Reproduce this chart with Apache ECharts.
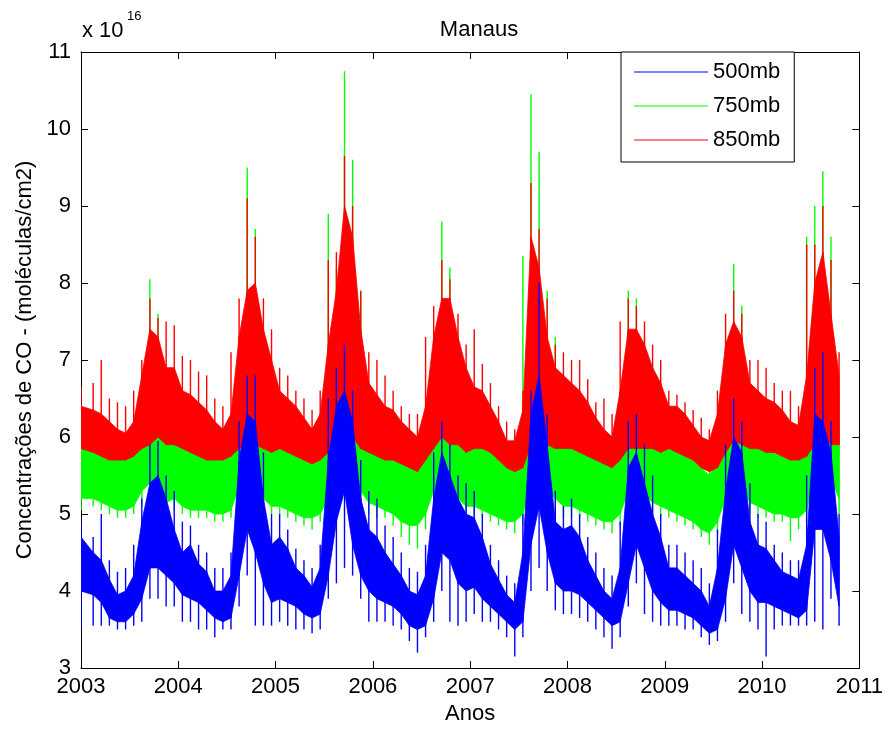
<!DOCTYPE html>
<html>
<head>
<meta charset="utf-8">
<script src="https://cdn.jsdelivr.net/npm/echarts@6/dist/echarts.min.js"></script>
<style>
  html, body { margin: 0; background: #fff; }
  #chart { width: 886px; height: 730px; }
</style>
</head>
<body>
<div id="chart"></div>
<script>
// monthly readings Jan 2003 .. Oct 2010, in units of 1e16 molecules/cm2
// lo/hi = dense part of the daily band, bot/top = extreme spikes of that month
const years = [2003, 2004, 2005, 2006, 2007, 2008, 2009, 2010, 2011];

const red_lo = [
  5.85, 5.8, 5.75, 5.7, 5.7, 5.7, 5.75, 5.85, 5.9, 6.0, 5.9, 5.9,
  5.85, 5.8, 5.75, 5.7, 5.7, 5.7, 5.75, 5.85, 5.9, 5.9, 5.85, 5.8,
  5.85, 5.8, 5.75, 5.7, 5.65, 5.7, 5.8, 5.9, 6.1, 6.0, 5.85, 5.8,
  5.75, 5.7, 5.7, 5.65, 5.6, 5.55, 5.7, 5.85, 6.0, 5.9, 5.9, 5.8,
  5.85, 5.85, 5.8, 5.7, 5.6, 5.55, 5.6, 5.9, 6.0, 5.9, 5.85, 5.85,
  5.85, 5.8, 5.75, 5.7, 5.65, 5.6, 5.7, 5.85, 5.85, 5.85, 5.85, 5.8,
  5.85, 5.8, 5.75, 5.7, 5.6, 5.55, 5.6, 5.8, 5.95, 5.9, 5.85, 5.85,
  5.8, 5.8, 5.75, 5.7, 5.7, 5.75, 5.9, 6.0, 5.9, 5.9
];
const red_hi = [
  6.4, 6.35, 6.3, 6.2, 6.1, 6.05, 6.2, 6.8, 7.4, 7.3, 6.9, 6.9,
  6.6, 6.55, 6.45, 6.35, 6.2, 6.1, 6.3, 7.3, 7.9, 8.0, 7.4, 7.0,
  6.6, 6.5, 6.4, 6.25, 6.1, 6.3, 7.2, 7.9, 9.0, 8.6, 7.4, 6.7,
  6.55, 6.4, 6.35, 6.2, 6.1, 6.0, 6.4, 7.3, 7.8, 7.8, 7.3, 6.9,
  6.65, 6.6, 6.4, 6.2, 5.95, 5.95, 6.35, 8.6, 8.2, 7.3, 6.9, 6.8,
  6.7, 6.6, 6.45, 6.25, 6.1, 6.0, 6.6, 7.4, 7.4, 7.2, 6.9, 6.7,
  6.4, 6.4, 6.3, 6.15, 6.0, 5.95, 6.3, 7.2, 7.5, 7.3, 6.7, 6.6,
  6.5, 6.45, 6.35, 6.2, 6.15, 6.8, 8.0, 8.4, 7.6, 6.8
];
const red_top = [
  6.65, 6.7, 7.0, 6.5, 6.45, 6.4, 6.6, 7.0, 7.8, 7.55, 7.5, 7.45,
  7.05, 7.0, 6.85, 6.8, 6.5, 6.4, 7.1, 7.8, 9.1, 8.6, 7.8, 7.4,
  6.9, 6.8, 6.6, 6.5, 6.35, 6.6, 8.3, 8.4, 9.65, 9.0, 7.9, 7.1,
  7.0, 6.8, 6.6, 6.4, 6.3, 6.3, 7.3, 7.7, 8.3, 8.05, 7.6, 7.2,
  7.4, 6.95, 6.7, 6.4, 6.2, 6.1, 6.6, 9.3, 8.7, 7.8, 7.2, 7.1,
  7.0, 7.0, 6.75, 6.45, 6.5, 6.3, 7.5, 7.8, 7.7, 7.5, 7.2, 7.0,
  6.6, 6.55, 6.45, 6.35, 6.25, 6.1, 6.6, 7.6, 7.9, 7.6, 7.0, 7.0,
  6.9, 6.7, 6.6, 6.6, 6.4, 8.5, 8.5, 9.0, 8.3, 7.1
];

const green_lo = [
  5.2, 5.2, 5.15, 5.1, 5.05, 5.05, 5.1, 5.3, 5.4, 5.35, 5.15, 5.2,
  5.1, 5.05, 5.05, 5.05, 5.0, 5.0, 5.05, 5.35, 5.5, 5.4, 5.2, 5.1,
  5.1, 5.05, 5.0, 4.95, 4.95, 5.0, 5.2, 5.5, 5.8, 5.6, 5.3, 5.15,
  5.1, 5.05, 5.0, 4.9, 4.85, 4.85, 5.0, 5.3, 5.5, 5.4, 5.2, 5.1,
  5.1, 5.05, 5.0, 4.95, 4.9, 4.9, 5.0, 5.4, 5.6, 5.3, 5.2, 5.1,
  5.1, 5.05, 5.0, 4.95, 4.9, 4.9, 5.0, 5.3, 5.4, 5.25, 5.15, 5.1,
  5.05, 5.0, 4.95, 4.9, 4.8, 4.75, 4.9, 5.2, 5.4, 5.35, 5.15, 5.1,
  5.05, 5.0, 5.0, 4.95, 4.95, 5.05, 5.5, 5.6, 5.45, 5.2
];
const green_hi = [
  5.95, 5.9, 5.8, 5.75, 5.7, 5.7, 5.8, 6.0, 6.3, 6.1, 6.0, 5.95,
  5.9, 5.85, 5.8, 5.75, 5.7, 5.7, 5.75, 6.3, 6.5, 6.3, 6.0, 5.9,
  5.9, 5.85, 5.8, 5.75, 5.7, 5.8, 6.3, 6.5, 7.0, 6.8, 6.2, 6.0,
  5.9, 5.85, 5.8, 5.75, 5.65, 5.6, 5.8, 6.2, 6.6, 6.4, 6.0, 5.9,
  5.9, 5.85, 5.8, 5.7, 5.6, 5.6, 5.7, 6.7, 6.8, 6.2, 6.0, 5.9,
  5.9, 5.85, 5.8, 5.7, 5.65, 5.65, 5.85, 6.3, 6.4, 6.2, 6.0, 5.9,
  5.85, 5.8, 5.75, 5.7, 5.6, 5.5, 5.7, 6.2, 6.4, 6.3, 6.0, 5.9,
  5.85, 5.8, 5.75, 5.7, 5.7, 6.0, 6.6, 6.8, 6.5, 6.1
];
const green_bot = [
  5.05, 5.1, 5.05, 5.0, 4.95, 4.95, 5.0, 5.1, 5.2, 5.15, 5.0, 5.05,
  5.0, 4.95, 4.95, 4.95, 4.9, 4.9, 4.95, 5.15, 5.3, 5.2, 5.05, 5.0,
  5.0, 4.95, 4.9, 4.85, 4.8, 4.9, 5.0, 5.3, 5.5, 5.35, 5.1, 5.0,
  4.95, 4.95, 4.85, 4.7, 4.6, 4.55, 4.8, 5.1, 5.3, 5.2, 5.05, 4.95,
  4.95, 4.95, 4.9, 4.85, 4.8, 4.75, 4.85, 5.2, 5.35, 5.1, 5.0, 4.95,
  4.95, 4.95, 4.9, 4.85, 4.8, 4.75, 4.85, 5.1, 5.2, 5.05, 5.0, 4.95,
  4.95, 4.9, 4.85, 4.8, 4.7, 4.6, 4.75, 5.0, 5.2, 5.15, 5.0, 4.95,
  4.95, 4.9, 4.9, 4.65, 4.8, 4.9, 5.3, 5.35, 5.2, 5.0
];
const green_top = [
  6.1, 6.0, 5.9, 5.8, 5.75, 5.75, 5.9, 6.5, 8.05, 7.6, 6.2, 6.1,
  6.0, 5.95, 5.9, 5.85, 5.8, 5.8, 5.9, 6.6, 9.5, 8.7, 6.5, 6.1,
  6.0, 5.95, 5.9, 5.8, 5.8, 6.2, 8.9, 8.2, 10.75, 9.6, 7.9, 6.3,
  6.0, 5.95, 5.9, 5.8, 5.7, 5.7, 6.0, 6.6, 8.8, 8.2, 6.6, 6.1,
  6.0, 5.95, 5.9, 5.8, 5.7, 5.7, 8.35, 10.45, 9.7, 7.9, 7.3, 6.0,
  6.0, 5.95, 5.9, 5.8, 5.75, 5.75, 6.3, 7.9, 7.8, 7.3, 6.1, 6.0,
  5.95, 5.9, 5.85, 5.8, 5.7, 5.6, 5.9, 6.8, 8.25, 7.7, 6.4, 6.0,
  5.95, 5.9, 5.85, 5.8, 5.8, 8.6, 9.0, 9.45, 8.6, 6.6
];

const blue_lo = [
  4.0, 3.95, 3.85, 3.65, 3.6, 3.6, 3.7, 3.9, 4.3, 4.3, 4.2, 4.1,
  3.95, 3.9, 3.85, 3.75, 3.65, 3.6, 3.65, 4.2, 4.8, 4.5, 4.1, 3.85,
  3.9, 3.85, 3.8, 3.7, 3.65, 3.7, 4.2, 4.9, 5.3, 4.6, 4.2, 4.0,
  3.9, 3.85, 3.8, 3.7, 3.55, 3.5, 3.55, 3.9, 4.5, 4.4, 4.1, 4.0,
  4.05, 3.9, 3.8, 3.7, 3.6, 3.5, 3.6, 4.6, 5.1, 4.5, 4.1, 4.0,
  4.0, 3.95, 3.85, 3.75, 3.65, 3.55, 3.6, 4.1, 4.6, 4.3, 4.0, 3.85,
  3.75, 3.75, 3.7, 3.65, 3.55, 3.45, 3.5, 3.9, 4.6, 4.3, 4.0, 3.85,
  3.85, 3.8, 3.75, 3.7, 3.65, 3.75, 4.8, 4.8, 4.4, 3.8
];
const blue_hi = [
  4.7, 4.5, 4.4, 4.15, 3.95, 4.0, 4.2, 4.9, 5.4, 5.5, 5.2, 4.8,
  4.5, 4.6, 4.35, 4.25, 4.0, 4.0, 4.2, 5.7, 6.3, 6.2, 5.2, 4.6,
  4.7, 4.55, 4.3, 4.2, 4.05, 4.3, 5.7, 6.4, 6.6, 6.2, 5.2, 4.8,
  4.7, 4.5, 4.35, 4.2, 4.0, 3.95, 4.2, 5.2, 5.8, 5.5, 5.2, 5.0,
  4.95, 4.7, 4.35, 4.15, 3.95, 3.85, 4.5, 6.3, 6.8, 5.9, 4.9, 4.8,
  4.85, 4.7, 4.4, 4.2, 4.0, 3.9, 4.3, 5.6, 5.8, 5.4, 5.0, 4.7,
  4.3, 4.3, 4.2, 4.1, 4.0, 3.8, 4.3, 5.3, 6.0, 5.8, 4.9, 4.6,
  4.55, 4.4, 4.25, 4.2, 4.15, 4.6, 6.3, 6.2, 5.8, 4.7
];
const blue_bot = [
  3.55, 3.55, 3.55, 3.55, 3.5, 3.5, 3.55, 3.6, 3.9, 3.9, 3.8, 3.8,
  3.6, 3.6, 3.5, 3.5, 3.4, 3.5, 3.5, 3.8, 4.2, 3.55, 3.55, 3.55,
  3.6, 3.55, 3.5, 3.5, 3.45, 3.5, 3.9, 4.1, 4.3, 4.2, 3.9, 3.6,
  3.6, 3.6, 3.55, 3.5, 3.35, 3.2, 3.4, 3.6, 4.0, 3.6, 3.55, 3.6,
  3.7, 3.6, 3.6, 3.5, 3.4, 3.15, 3.4, 4.0, 4.3, 4.0, 3.75, 3.7,
  3.7, 3.65, 3.6, 3.5, 3.4, 3.25, 3.4, 3.8, 4.1, 3.7, 3.6, 3.55,
  3.55, 3.55, 3.5, 3.5, 3.4, 3.3, 3.35, 3.6, 4.1, 3.7, 3.6, 3.5,
  3.15, 3.5, 3.55, 3.55, 3.55, 3.55, 3.6, 3.5, 3.9, 3.55
];
const blue_top = [
  4.9, 4.7, 5.0, 4.4, 4.25, 4.3, 4.6, 5.2, 5.9, 5.95, 5.5, 5.3,
  4.9, 4.85, 4.6, 4.5, 4.3, 4.3, 4.5, 6.2, 6.8, 6.8, 5.8, 5.0,
  5.0, 4.8, 4.55, 4.4, 4.3, 4.6, 6.5, 6.9, 7.2, 6.6, 5.7, 5.3,
  5.2, 4.85, 4.7, 4.5, 4.3, 4.25, 4.6, 5.8, 6.2, 5.9, 5.5, 5.4,
  5.3, 5.0, 4.6, 4.4, 4.2, 4.1, 5.0, 6.6, 8.0, 6.3, 5.3, 5.1,
  5.2, 5.0, 4.7, 4.5, 4.3, 4.2, 4.9, 6.2, 6.3, 5.9, 5.5, 5.0,
  4.6, 4.6, 4.5, 4.4, 4.3, 4.1, 4.8, 5.9, 6.5, 6.2, 5.4, 5.0,
  4.9, 4.6, 4.5, 4.4, 4.4, 5.5, 6.9, 7.1, 6.2, 5.0
];

const FONT = '"Liberation Sans", Arial, sans-serif';

// x position of month i (mid-month, first sample on 1 Jan 2003)
function monthTime(i) {
  return i === 0 ? 2003 : 2003 + (i + 0.5) / 12;
}

function bandData(lo, hi) {
  let out = [];
  for (let i = 0; i < lo.length - 1; i++) {
    out.push([monthTime(i), lo[i], hi[i], monthTime(i + 1), lo[i + 1], hi[i + 1]]);
  }
  return out;
}

function spikeData(bot, top) {
  return bot.map((b, i) => [monthTime(i), b, top[i]]);
}

function bandSeries(name, color, lo, hi) {
  return {
    type: 'custom',
    name: name,
    itemStyle: { color: color },
    data: bandData(lo, hi),
    encode: { x: [0, 3], y: [1, 2, 4, 5] },
    clip: true,
    silent: true,
    renderItem: function (params, api) {
      let a = api.coord([api.value(0), api.value(1)]);
      let b = api.coord([api.value(3), api.value(4)]);
      let c = api.coord([api.value(3), api.value(5)]);
      let d = api.coord([api.value(0), api.value(2)]);
      return {
        type: 'polygon',
        shape: { points: [a, b, c, d] },
        style: { fill: color, stroke: color, lineWidth: 0.8 }
      };
    }
  };
}

function spikeSeries(name, color, bot, top) {
  return {
    type: 'custom',
    name: name,
    itemStyle: { color: color },
    data: spikeData(bot, top),
    encode: { x: 0, y: [1, 2] },
    clip: true,
    silent: true,
    renderItem: function (params, api) {
      let p1 = api.coord([api.value(0), api.value(1)]);
      let p2 = api.coord([api.value(0), api.value(2)]);
      return {
        type: 'line',
        shape: { x1: p1[0], y1: p1[1], x2: p2[0], y2: p2[1] },
        style: { stroke: color, lineWidth: 1.4 }
      };
    }
  };
}

const BLUE = '#0000ff', GREEN = '#00ff00', RED = '#ff0000';

let chart = echarts.init(document.getElementById('chart'));
chart.setOption({
  animation: false,
  backgroundColor: '#fff',
  title: {
    text: 'Manaus',
    left: 474,
    top: 14,
    textAlign: 'center',
    textStyle: { fontFamily: FONT, fontSize: 22, fontWeight: 'normal', color: '#000' }
  },
  grid: { left: 81, right: 20, top: 52, bottom: 62 },
  legend: {
    data: [
      { name: '500mb', itemStyle: { color: BLUE } },
      { name: '750mb', itemStyle: { color: GREEN } },
      { name: '850mb', itemStyle: { color: RED } }
    ],
    orient: 'vertical',
    left: 621,
    top: 52,
    icon: 'rect',
    itemWidth: 74,
    itemHeight: 1.2,
    itemGap: 12,
    padding: [9, 14, 11, 13],
    borderColor: '#000',
    borderWidth: 1,
    backgroundColor: '#fff',
    selectedMode: false,
    textStyle: { fontFamily: FONT, fontSize: 22, lineHeight: 22, color: '#000' }
  },
  graphic: [
    { type: 'text', left: 82, top: 20, style: { text: 'x 10', font: '22px ' + FONT, fill: '#000' } },
    { type: 'text', left: 127, top: 10, style: { text: '16', font: '13px ' + FONT, fill: '#000' } }
  ],
  xAxis: [
    {
      type: 'value', min: years[0], max: years[years.length - 1], interval: 1,
      name: 'Anos', nameLocation: 'middle', nameGap: 34,
      nameTextStyle: { fontFamily: FONT, fontSize: 22, color: '#000' },
      axisLine: { lineStyle: { color: '#000', width: 1 } },
      axisTick: { inside: true, length: 7, lineStyle: { color: '#000' } },
      axisLabel: { margin: 8, fontFamily: FONT, fontSize: 22, color: '#000', formatter: v => String(v) },
      splitLine: { show: false }
    },
    {
      type: 'value', position: 'top', min: years[0], max: years[years.length - 1], interval: 1,
      axisLine: { lineStyle: { color: '#000', width: 1 } },
      axisTick: { inside: true, length: 7, lineStyle: { color: '#000' } },
      axisLabel: { show: false },
      splitLine: { show: false }
    }
  ],
  yAxis: [
    {
      type: 'value', min: 3, max: 11, interval: 1,
      name: 'Concentrações de CO - (moléculas/cm2)', nameLocation: 'middle', nameGap: 44,
      nameTextStyle: { fontFamily: FONT, fontSize: 22, color: '#000' },
      axisLine: { show: true, lineStyle: { color: '#000', width: 1 } },
      axisTick: { show: true, inside: true, length: 7, lineStyle: { color: '#000' } },
      axisLabel: { margin: 10, fontFamily: FONT, fontSize: 22, color: '#000' },
      splitLine: { show: false }
    },
    {
      type: 'value', position: 'right', min: 3, max: 11, interval: 1,
      axisLine: { show: true, lineStyle: { color: '#000', width: 1 } },
      axisTick: { show: true, inside: true, length: 7, lineStyle: { color: '#000' } },
      axisLabel: { show: false },
      splitLine: { show: false }
    }
  ],
  series: [
    bandSeries('750mb', GREEN, green_lo, green_hi),
    spikeSeries('750mb', GREEN, green_bot, green_top),
    bandSeries('850mb', RED, red_lo, red_hi),
    spikeSeries('850mb', RED, red_lo, red_top),
    bandSeries('500mb', BLUE, blue_lo, blue_hi),
    spikeSeries('500mb', BLUE, blue_bot, blue_top)
  ]
});
</script>
</body>
</html>
